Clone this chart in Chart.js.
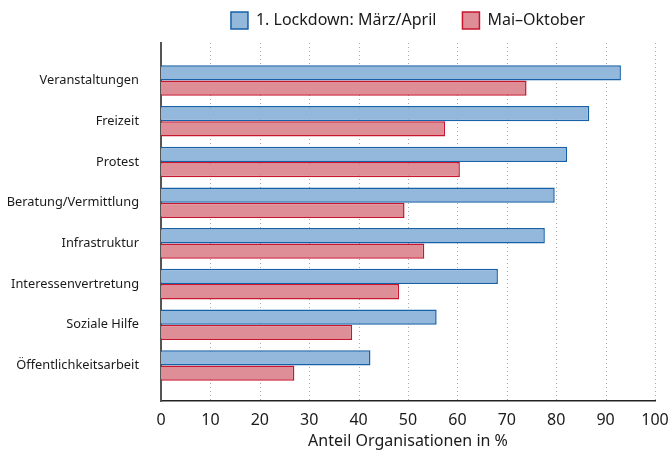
<!DOCTYPE html>
<html>
<head>
<meta charset="utf-8">
<script src="https://cdn.jsdelivr.net/npm/chart.js@4/dist/chart.umd.min.js"></script>
<style>
  html, body { margin: 0; padding: 0; background: #fff; }
  #wrap { width: 670px; height: 451px; }
</style>
</head>
<body>
<div id="wrap"><canvas id="chart"></canvas></div>
<script>
const categories = ['Veranstaltungen', 'Freizeit', 'Protest', 'Beratung/Vermittlung', 'Infrastruktur', 'Interessenvertretung', 'Soziale Hilfe', 'Öffentlichkeitsarbeit'];
const lockdown = [93.1, 86.7, 82.2, 79.7, 77.7, 68.2, 55.8, 42.4];
const maiOktober = [74.0, 57.5, 60.5, 49.3, 53.3, 48.2, 38.7, 27.0];
const xTicks = [0, 10, 20, 30, 40, 50, 60, 70, 80, 90, 100];

const font = 'Noto Sans, sans-serif';
Chart.defaults.font.family = font;
Chart.defaults.color = '#1a1a1a';

(function () {
    const toPoints = arr => arr.map((v, i) => ({ x: v, y: i }));

    new Chart(document.getElementById('chart'), {
        type: 'bar',
        data: {
            datasets: [{
                label: '1. Lockdown: März/April',
                data: toPoints(lockdown),
                backgroundColor: '#94b7dc',
                borderColor: '#1761a9',
                borderWidth: 1.5,
                categoryPercentage: 0.75,
                barPercentage: 1.0
            }, {
                label: 'Mai–Oktober',
                data: toPoints(maiOktober),
                backgroundColor: '#de8e97',
                borderColor: '#c8162f',
                borderWidth: 1.5,
                categoryPercentage: 0.75,
                barPercentage: 1.0
            }]
        },
        options: {
            indexAxis: 'y',
            responsive: true,
            maintainAspectRatio: false,
            animation: false,
            layout: { padding: { top: -14, right: 15, bottom: 0, left: 0 } },
            plugins: {
                tooltip: { enabled: false },
                legend: {
                    position: 'top',
                    fullSize: false,
                    labels: {
                        boxWidth: 17,
                        boxHeight: 17,
                        padding: 26,
                        font: { size: 16 },
                        color: '#1a1a1a'
                    }
                }
            },
            scales: {
                x: {
                    type: 'linear',
                    min: 0,
                    max: 100,
                    afterBuildTicks: s => { s.ticks = xTicks.map(v => ({ value: v })); },
                    afterFit: s => { s.height = 50; s.paddingLeft = 0; s.paddingRight = 0; },
                    grid: { display: false, drawTicks: false },
                    border: { display: true, color: '#222', width: 1.5 },
                    ticks: { padding: 10, font: { size: 16 }, color: '#1a1a1a' },
                    title: {
                        display: true,
                        text: 'Anteil Organisationen in %',
                        font: { size: 16 },
                        color: '#1a1a1a',
                        padding: { top: 4, bottom: 0 }
                    }
                },
                y: {
                    type: 'linear',
                    reverse: true,
                    offset: false,
                    min: -0.92,
                    max: 7.87,
                    afterBuildTicks: s => { s.ticks = categories.map((c, i) => ({ value: i })); },
                    afterFit: s => { s.width = 161; },
                    grid: { display: false, offset: false },
                    border: { display: true, color: '#555', width: 2 },
                    ticks: {
                        padding: 14,
                        font: { size: 12.8 },
                        color: '#1a1a1a',
                        callback: v => categories[v]
                    }
                }
            }
        },
        plugins: [{
            id: 'legendGap',
            beforeLayout(chart) {
                const lg = chart.legend;
                if (lg && !lg._gapPatched) {
                    const fit = lg.fit.bind(lg);
                    lg.fit = function () { fit(); this.height += 4; };
                    lg._gapPatched = true;
                }
            }
        }, {
            id: 'dottedGrid',
            beforeDatasetsDraw(chart) {
                const { ctx, chartArea, scales } = chart;
                ctx.save();
                ctx.strokeStyle = '#a8a8a8';
                ctx.lineWidth = 1;
                ctx.setLineDash([1, 3]);
                xTicks.slice(1).forEach(v => {
                    const x = Math.round(scales.x.getPixelForValue(v)) + 0.5;
                    ctx.beginPath();
                    ctx.moveTo(x, chartArea.top);
                    ctx.lineTo(x, chartArea.bottom);
                    ctx.stroke();
                });
                ctx.restore();
            }
        }]
    });
})();
</script>
</body>
</html>
